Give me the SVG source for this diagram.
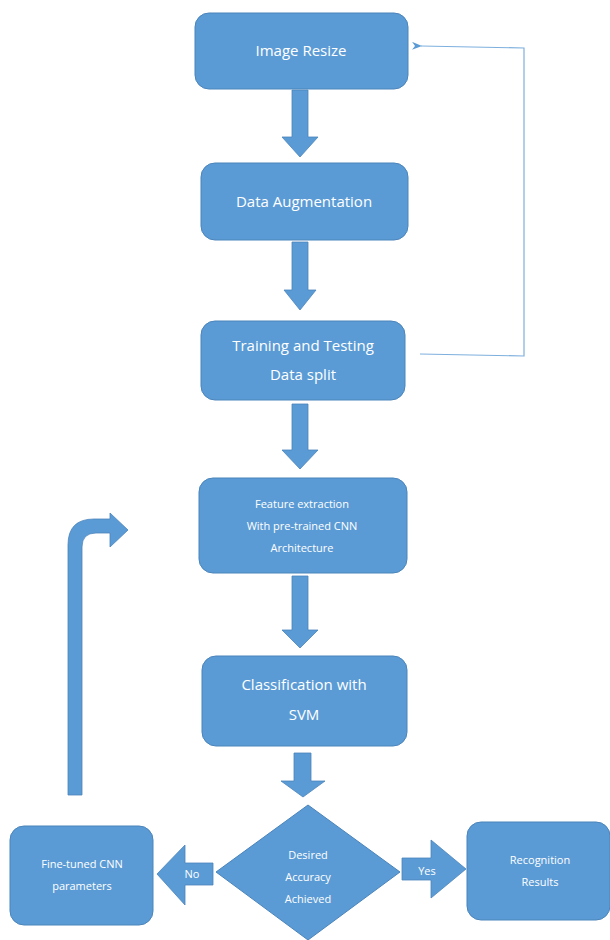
<svg xmlns="http://www.w3.org/2000/svg" width="610" height="940" viewBox="0 0 610 940">
<style>
.box{fill:#5b9bd5;stroke:#4a84bb;stroke-width:1}
.arr{fill:#5b9bd5;stroke:#4a84bb;stroke-width:0.8}
.t{fill:#ffffff;font-family:"Open Sans","Liberation Sans",sans-serif;text-anchor:middle}
.l{font-size:15px}
.s{font-size:11px}
</style>
<defs>
<marker id="ah" markerWidth="10" markerHeight="8" refX="1" refY="4" orient="auto" markerUnits="userSpaceOnUse">
<path d="M10,0 L0,4 L10,8 L7,4 Z" fill="#5b9bd5"/>
</marker>
</defs>
<rect width="610" height="940" fill="#ffffff"/>
<g id="connectors">
<path d="M420,354 L524,356 L524,48 L421,46" fill="none" stroke="#7eb0de" stroke-width="1.2" marker-end="url(#ah)"/>
<path class="arr" d="M292,90 H308 V137 H318 L300,157 L282,137 H292 Z"/>
<path class="arr" d="M292,242 H308 V290 H316 L300,310 L284,290 H292 Z"/>
<path class="arr" d="M292,404 H308 V450 H318 L300,469 L282,450 H292 Z"/>
<path class="arr" d="M292,576 H308 V630 H318 L300,648 L282,630 H292 Z"/>
<path class="arr" d="M294,753 H311 V781 H325 L303,797 L281,781 H294 Z"/>
<path class="arr" d="M68,795 V545 Q68,519 94,519 H110 V513 L128,530 L110,547 V533 H96 Q82,533 82,547 V795 Z"/>
<path class="arr" d="M213,863 V885 H185 V905 L157,874 L185,845 V863 Z"/>
<path class="arr" d="M402,858 H431 V840 L466,869 L431,898 V880 H402 Z"/>
<text class="t s" x="192" y="878">No</text>
<text class="t s" x="427" y="875">Yes</text>
</g>
<g id="n1"><rect class="box" x="195" y="13" width="213" height="76" rx="14"/><text class="t l" x="301" y="56">Image Resize</text></g>
<g id="n2"><rect class="box" x="201" y="163" width="207" height="77" rx="14"/><text class="t l" x="304" y="207">Data Augmentation</text></g>
<g id="n3"><rect class="box" x="201" y="321" width="204" height="79" rx="14"/><text class="t l" x="303" y="351">Training and Testing</text><text class="t l" x="303" y="380">Data split</text></g>
<g id="n4"><rect class="box" x="199" y="478" width="208" height="95" rx="14"/><text class="t s" x="302" y="508">Feature extraction</text><text class="t s" x="302" y="530">With pre-trained CNN</text><text class="t s" x="302" y="552">Architecture</text></g>
<g id="n5"><rect class="box" x="202" y="656" width="205" height="90" rx="14"/><text class="t l" x="304" y="690">Classification with</text><text class="t l" x="304" y="720">SVM</text></g>
<g id="n6"><path class="box" d="M308,805 L400,872 L308,940 L216,872 Z"/><text class="t s" x="308" y="859">Desired</text><text class="t s" x="308" y="881">Accuracy</text><text class="t s" x="308" y="903">Achieved</text></g>
<g id="n7"><rect class="box" x="10" y="826" width="143" height="99" rx="14"/><text class="t s" x="82" y="868">Fine-tuned CNN</text><text class="t s" x="82" y="890">parameters</text></g>
<g id="n8"><rect class="box" x="467" y="822" width="143" height="98" rx="14"/><text class="t s" x="540" y="864">Recognition</text><text class="t s" x="540" y="886">Results</text></g>
</svg>
